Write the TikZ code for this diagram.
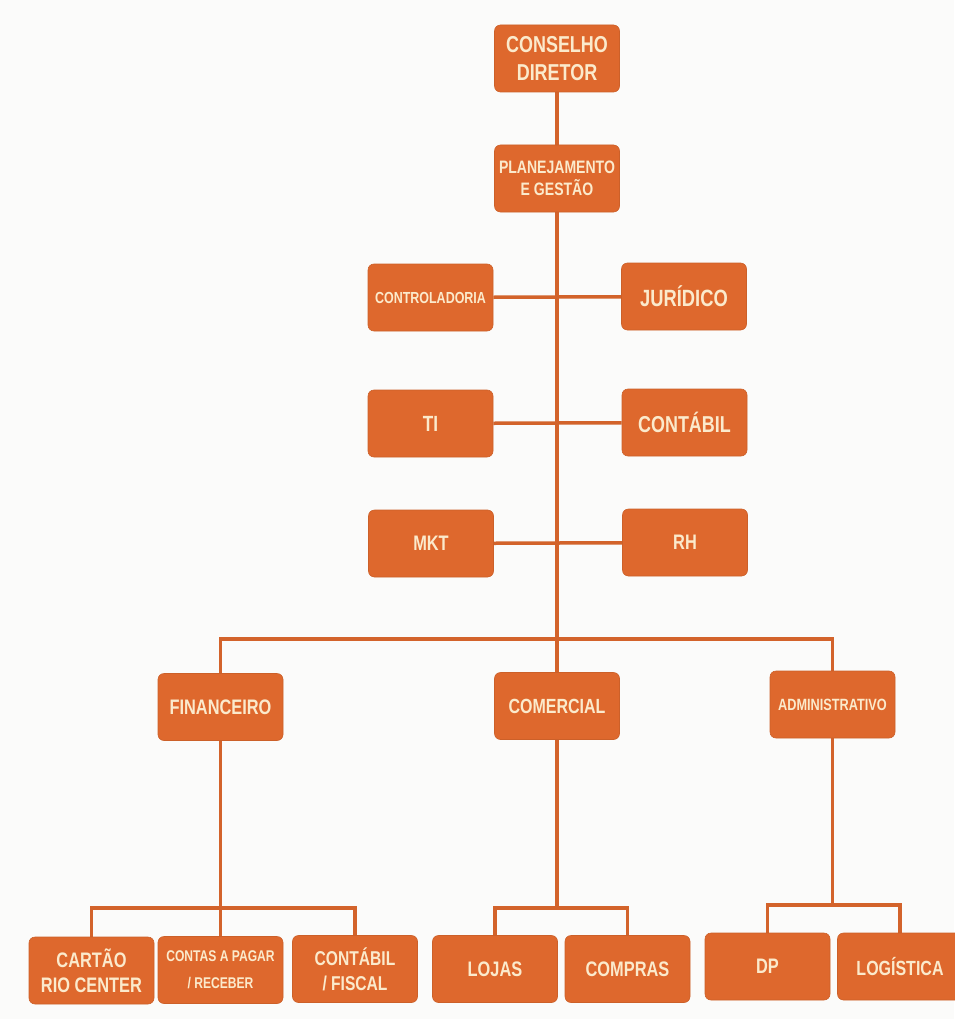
\documentclass[tikz,border=0pt]{standalone}
\usepackage{fontspec}
\setmainfont{Liberation Sans}[FakeStretch=0.78]
\usepackage{tikz}
\usetikzlibrary{backgrounds}
\definecolor{caramel}{RGB}{222,104,45}
\definecolor{cream}{RGB}{251,234,204}
\definecolor{paper}{RGB}{251,251,250}
\newcommand{\boxfont}[2]{\bfseries\fontsize{#1}{#2}\selectfont}
\tikzset{%
  orgbox/.style={rectangle,rounded corners=6pt,fill=caramel,draw=caramel!92!black,line width=0.6pt,text=cream,font=\boxfont{21}{25},minimum width=125pt,minimum height=67pt,inner sep=2pt,align=center}
}
\tikzset{%
  orgline/.style={draw=caramel!95!black,line width=3.5pt}
}

\begin{document}
\begin{tikzpicture}[x=1pt,y=-1pt]
            \useasboundingbox (0,0) rectangle (954,1019);
            % top and staff
            \node[orgbox,font=\boxfont{23}{28}](conselho) at (557,58.5){CONSELHO\\DIRETOR};
            \node[orgbox,font=\boxfont{18}{22}](planej) at (557,178.5){PLANEJAMENTO\\E GESTÃO};
            \node[orgbox,font=\boxfont{16}{20}](controla) at (430.5,297.5){CONTROLADORIA};
            \node[orgbox,font=\boxfont{23.5}{28}](juridico) at (684,296.5){JURÍDICO};
            \node[orgbox,font=\boxfont{22}{26}](ti) at (430.5,423.5){TI};
            \node[orgbox,font=\boxfont{23}{27}](contabil) at (684.5,422.5){CONTÁBIL};
            \node[orgbox](mkt) at (431,543.5){MKT};
            \node[orgbox](rh) at (685,542.5){RH};

            % directorates
            \node[orgbox](financ) at (220.5,707){FINANCEIRO};
            \node[orgbox,font=\boxfont{20.5}{25}](comerc) at (557,706){COMERCIAL};
            \node[orgbox,font=\boxfont{16.3}{20}](admin) at (832.5,704.5){ADMINISTRATIVO};

            % bottom row
            \node[orgbox](cartao) at (91.5,970.5){CARTÃO\\RIO CENTER};
            \node[orgbox,font=\boxfont{15.5}{27}](contas) at (220.5,970){CONTAS A PAGAR\\/ RECEBER};
            \node[orgbox,font=\boxfont{20}{25}](fiscal) at (355,969){CONTÁBIL\\/ FISCAL};
            \node[orgbox](lojas) at (495,969){LOJAS};
            \node[orgbox](compras) at (627.5,969){COMPRAS};
            \node[orgbox](dp) at (767.5,966.5){DP};
            \node[orgbox,font=\boxfont{20.5}{25}](logist) at (900,966.5){LOGÍSTICA};

            \coordinate (bus) at (557,639);
            \coordinate (fbus) at (220.5,908);
            \coordinate (cbus) at (557,908);
            \coordinate (abus) at (832.5,905);

            \begin{scope}[on background layer]
                \fill[paper] (0,0) rectangle (954,1019);
                \draw[orgline] (conselho) -- (planej);
                \draw[orgline] (planej) -- (comerc);
                \draw[orgline] (controla) -- (juridico);
                \draw[orgline] (ti) -- (contabil);
                \draw[orgline] (mkt) -- (rh);
                \draw[orgline] (financ.north) |- (bus) -| (admin.north);
                \draw[orgline] (financ) -- (contas);
                \draw[orgline] (cartao.north) |- (fbus) -| (fiscal.north);
                \draw[orgline] (comerc) -- (cbus);
                \draw[orgline] (lojas.north) |- (cbus) -| (compras.north);
                \draw[orgline] (admin) -- (abus);
                \draw[orgline] (dp.north) |- (abus) -| (logist.north);
            \end{scope}
        \end{tikzpicture}
\end{document}
